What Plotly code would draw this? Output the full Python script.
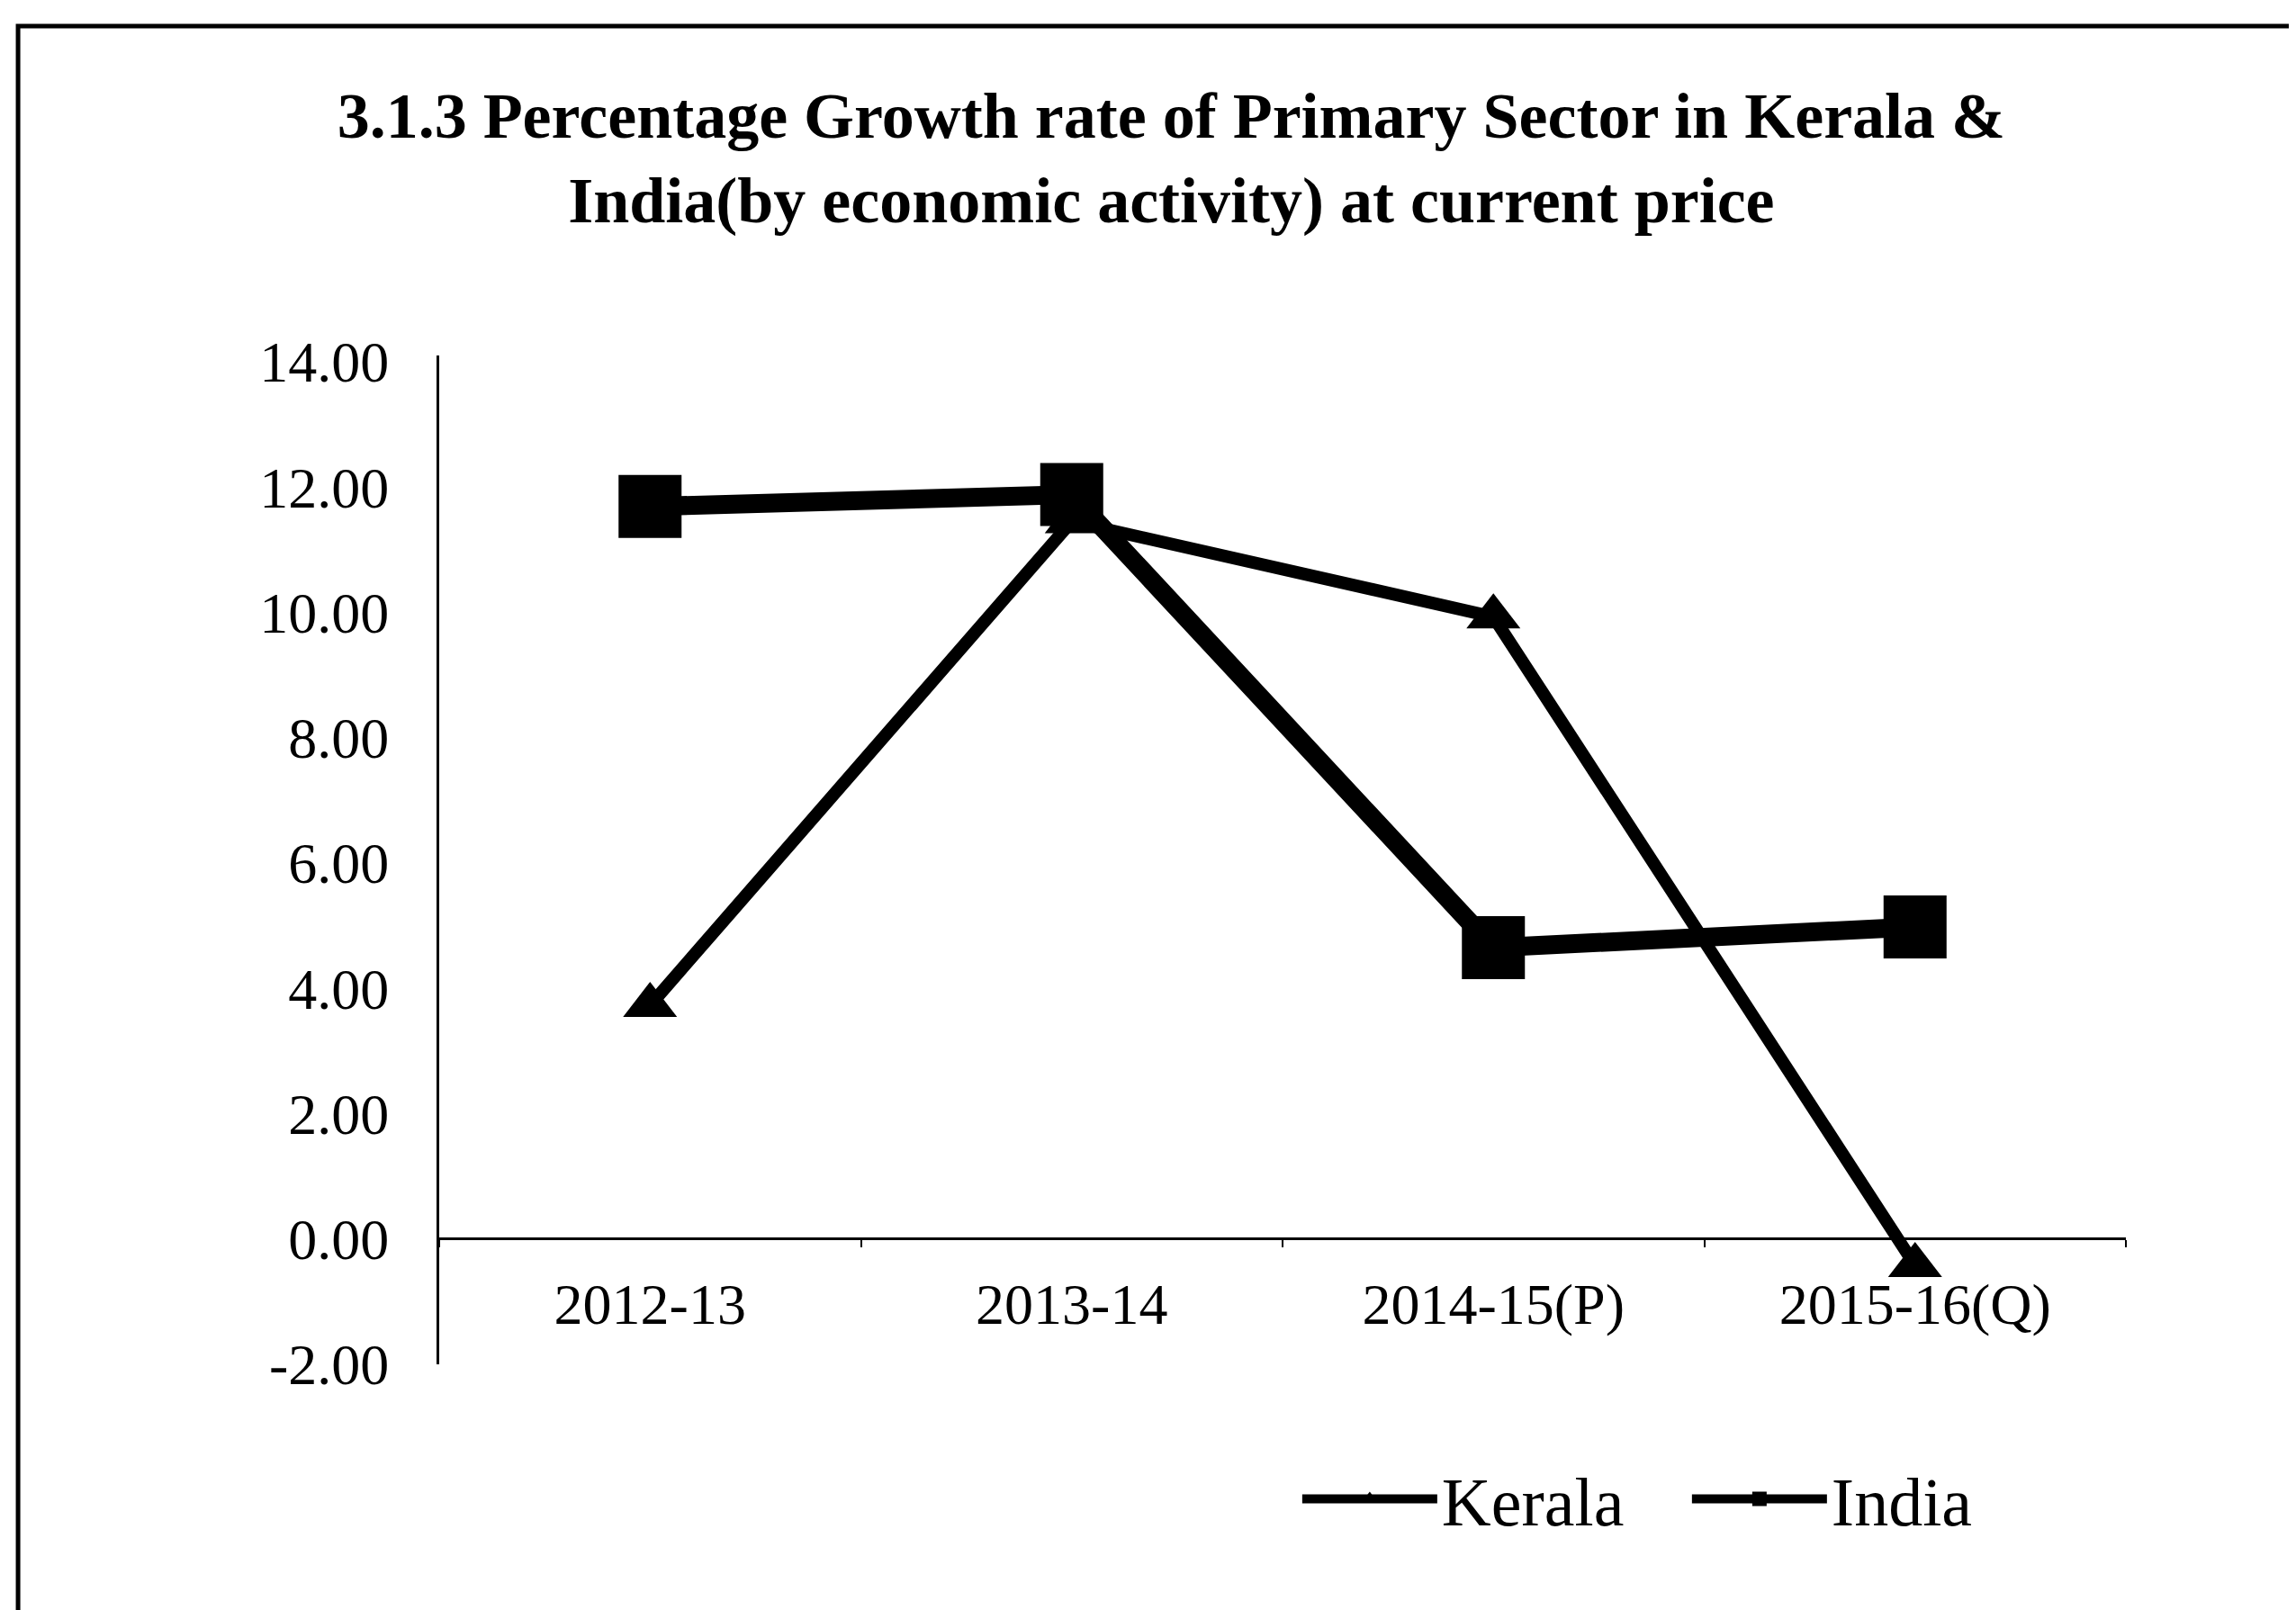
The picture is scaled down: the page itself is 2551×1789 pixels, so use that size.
import plotly.graph_objects as go

categories = ["2012-13", "2013-14", "2014-15(P)", "2015-16(Q)"]
kerala = [3.73, 11.45, 9.93, -0.42]
india = [11.69, 11.88, 4.65, 4.98]
y_ticks = [-2, 0, 2, 4, 6, 8, 10, 12, 14]
y_tick_labels = ["-2.00", "0.00", "2.00", "4.00", "6.00", "8.00", "10.00", "12.00", "14.00"]

SERIF = "Liberation Serif, Times New Roman, serif"

fig = go.Figure()
fig.add_trace(go.Scatter(
    x=categories, y=kerala, name="Kerala", mode="lines+markers",
    line=dict(color="black", width=14),
    marker=dict(symbol="triangle-up", size=52, color="black"),
))
fig.add_trace(go.Scatter(
    x=categories, y=india, name="India", mode="lines+markers",
    line=dict(color="black", width=21),
    marker=dict(symbol="square", size=70, color="black"),
))

fig.update_layout(
    width=2551, height=1789,
    paper_bgcolor="white", plot_bgcolor="white",
    margin=dict(l=480, r=197, t=387, b=281),
    title=dict(
        text="<b>3.1.3 Percentage Growth rate of Primary Sector in Kerala &<br>India(by economic activity) at current price</b>",
        font=dict(family=SERIF, size=72, color="black"),
        x=0.507, xref="container", xanchor="center",
        y=0.919, yref="container", yanchor="middle",
    ),
    xaxis=dict(
        type="category", range=[-0.5, 3.5],
        anchor="free", position=0.125,
        showline=True, linecolor="black", linewidth=3,
        ticks="outside", tickson="boundaries", ticklen=8, tickcolor="black", tickwidth=2,
        ticklabelstandoff=16,
        showgrid=False, zeroline=False,
        tickfont=dict(family=SERIF, size=64, color="black"),
    ),
    yaxis=dict(
        range=[-2, 14.1],
        tickmode="array", tickvals=y_ticks, ticktext=y_tick_labels,
        showline=True, linecolor="black", linewidth=3,
        ticks="", showgrid=False, zeroline=False,
        ticklabelstandoff=40,
        tickfont=dict(family=SERIF, size=64, color="black"),
    ),
    legend=dict(
        orientation="h", x=0.509, y=-0.1335, xanchor="left", yanchor="middle",
        font=dict(family=SERIF, size=76, color="black"),
        bgcolor="rgba(0,0,0,0)", itemwidth=150,
        entrywidth=268, entrywidthmode="pixels",
    ),
    showlegend=True,
    shapes=[
        dict(type="rect", xref="paper", yref="paper",
             x0=-0.2497, x1=1.2, y0=-0.4, y1=1.3265,
             line=dict(color="black", width=5), fillcolor="rgba(0,0,0,0)", layer="below"),
    ],
)

fig.write_html("out.html")
